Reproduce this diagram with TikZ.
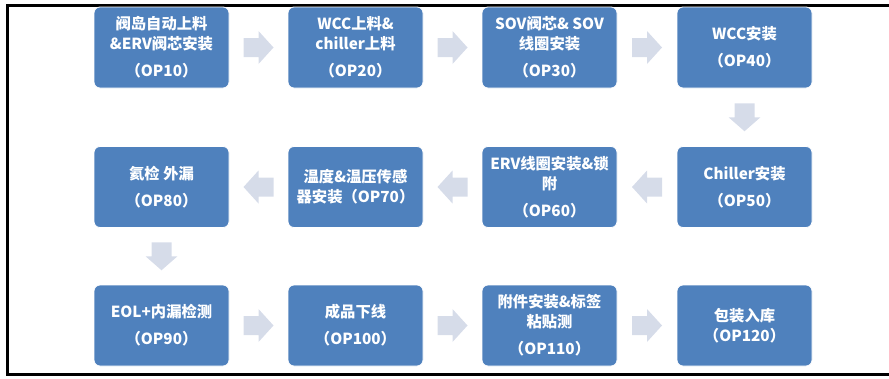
\documentclass[tikz,border=0pt]{standalone}
\usepackage{fontspec}
\setmainfont{Noto Sans CJK SC}
\usetikzlibrary{calc}
\definecolor{boxblue}{RGB}{79,129,189}
\definecolor{arrowfill}{RGB}{214,220,233}
\tikzset{
  opbox/.style={rounded corners=6pt, fill=boxblue, draw=white, line width=0.8pt,
    minimum width=135pt, minimum height=81pt, inner sep=0pt, align=center,
    text=white, font=\fontsize{15.3}{20}\selectfont\bfseries},
  rarr/.pic={\fill[arrowfill] (-15,-9.5) -- (0,-9.5) -- (0,-16.5) -- (15,0) -- (0,16.5) -- (0,9.5) -- (-15,9.5) -- cycle;},
  larr/.pic={\fill[arrowfill] (15,-9.5) -- (0,-9.5) -- (0,-16.5) -- (-15,0) -- (0,16.5) -- (0,9.5) -- (15,9.5) -- cycle;},
  darr/.pic={\fill[arrowfill] (-10,-14) -- (10,-14) -- (10,0) -- (16,0) -- (0,14) -- (-16,0) -- (-10,0) -- cycle;},
  framel/.style={line width=3pt, black}
}
\begin{document}
\begin{tikzpicture}[x=1pt,y=-1pt]
\useasboundingbox (0,0) rectangle (889,378);
% frame
\draw[framel] (889,5.5) -- (7.5,5.5) -- (7.5,374.5) -- (889,374.5);
% row 1
\node[opbox] (b10) at (161.5,47.5) {阀岛自动上料\\\&ERV阀芯安装\\[7pt]（OP10）};
\node[opbox] (b20) at (355.5,47.5) {WCC上料\&\\chiller上料\\[7pt]（OP20）};
\node[opbox] (b30) at (549.5,47.5) {SOV阀芯\& SOV\\线圈安装\\[7pt]（OP30）};
\node[opbox] (b40) at (744.5,47.5) {WCC安装\\[7pt]（OP40）};
% row 2
\node[opbox] (b50) at (744.5,187) {Chiller安装\\[7pt]（OP50）};
\node[opbox] (b60) at (549.5,187) {ERV线圈安装\&锁\\附\\[7pt]（OP60）};
\node[opbox] (b70) at (355.5,187) {温度\&温压传感\\器安装（OP70）};
\node[opbox] (b80) at (161.5,187) {氦检 外漏\\[7pt]（OP80）};
% row 3
\node[opbox] (b90) at (161.5,325.5) {EOL+内漏检测\\[7pt]（OP90）};
\node[opbox] (b100) at (355.5,325.5) {成品下线\\[7pt]（OP100）};
\node[opbox] (b110) at (549.5,325.5) {附件安装\&标签\\粘贴测\\[7pt]（OP110）};
\node[opbox] (b120) at (744.5,325.5) {包装入库\\（OP120）};
% arrows
\pic at ($(b10.east)!0.5!(b20.west)$) {rarr};
\pic at ($(b20.east)!0.5!(b30.west)$) {rarr};
\pic at ($(b30.east)!0.5!(b40.west)$) {rarr};
\pic at ($(b40.south)!0.5!(b50.north)$) {darr};
\pic at ($(b50.west)!0.5!(b60.east)$) {larr};
\pic at ($(b60.west)!0.5!(b70.east)$) {larr};
\pic at ($(b70.west)!0.5!(b80.east)$) {larr};
\pic at ($(b80.south)!0.5!(b90.north)$) {darr};
\pic at ($(b90.east)!0.5!(b100.west)$) {rarr};
\pic at ($(b100.east)!0.5!(b110.west)$) {rarr};
\pic at ($(b110.east)!0.5!(b120.west)$) {rarr};
\end{tikzpicture}
\end{document}
